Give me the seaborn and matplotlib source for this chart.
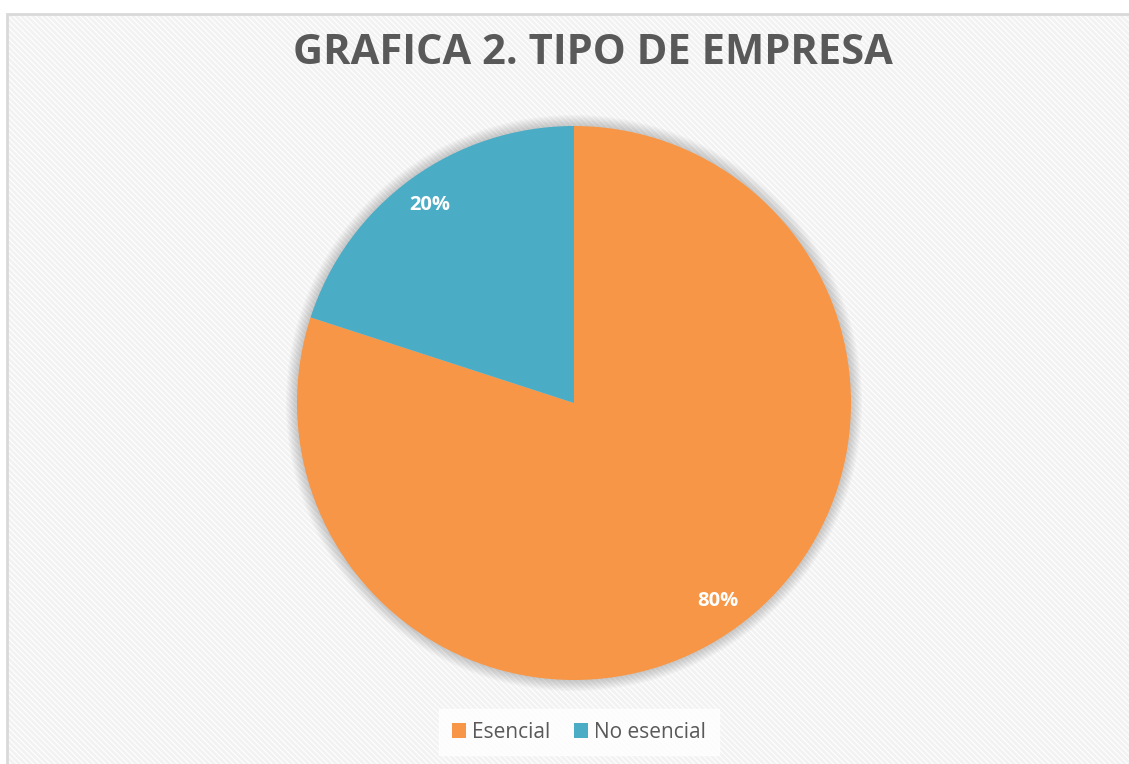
import matplotlib
matplotlib.use("Agg")
import matplotlib.pyplot as plt
import seaborn as sns
from matplotlib.patches import Rectangle, Circle

# data
categorias = ["Esencial", "No esencial"]
porcentajes = [80, 20]
colores = ["#F79646", "#4BACC6"]
titulo = "GRAFICA 2. TIPO DE EMPRESA"

sns.set_theme(style="white")
plt.rcParams['font.family'] = ['Open Sans', 'DejaVu Sans']
plt.rcParams['hatch.linewidth'] = 2.0

W, H = 1129, 764
fig = plt.figure(figsize=(W / 100, H / 100), dpi=100)
fig.patch.set_facecolor("white")

# chart area background with diagonal stripes
bg = Rectangle((7 / W, -0.01), 1.1, 1 - 14 / H + 0.01, transform=fig.transFigure,
               facecolor="white", edgecolor="#F2F2F2", hatch="\\\\\\\\\\\\",
               linewidth=0, zorder=-3)
fig.patches.append(bg)
border = Rectangle((7 / W, -0.01), 1.1, 1 - 14 / H + 0.01, transform=fig.transFigure,
                   facecolor="none", edgecolor="#D9D9D9", linewidth=2, zorder=-2)
fig.patches.append(border)

cx, cy, r = 574, 403, 277
ax = fig.add_axes([(cx - r) / W, 1 - (cy + r) / H, 2 * r / W, 2 * r / H])
ax.set_facecolor("none")
ax.set_zorder(2)

# soft glow around the pie
for k in range(8):
    ax.add_patch(Circle((0, 0), 1 + 0.005 * (k + 1), facecolor="black",
                        edgecolor="none", alpha=0.025, zorder=0, clip_on=False))

wedges, texts, autotexts = ax.pie(
    porcentajes, colors=colores, startangle=90, counterclock=False,
    autopct="%1.0f%%", pctdistance=0.885, radius=1,
    wedgeprops=dict(linewidth=0, zorder=2),
    textprops=dict(color="white", fontsize=14.5, fontweight="bold"))
for t in autotexts:
    t.set_zorder(3)
ax.set_xlim(-1, 1)
ax.set_ylim(-1, 1)
ax.set_aspect("equal")
ax.axis("off")

fig.text(593 / W, 1 - 53 / H, titulo, ha="center", va="center",
         fontsize=30, fontweight="bold", color="#595959")

leg = fig.legend(wedges, categorias, loc="center", bbox_to_anchor=(579 / W, 1 - 732 / H),
                 ncol=2, frameon=True, fancybox=False, fontsize=15,
                 handlelength=0.7, handleheight=0.7, handletextpad=0.3,
                 columnspacing=1.1, borderpad=0.6, labelcolor="#595959")
leg.get_frame().set_facecolor("white")
leg.get_frame().set_edgecolor("white")
leg.set_zorder(3)

fig.savefig("out.png", dpi=100)
